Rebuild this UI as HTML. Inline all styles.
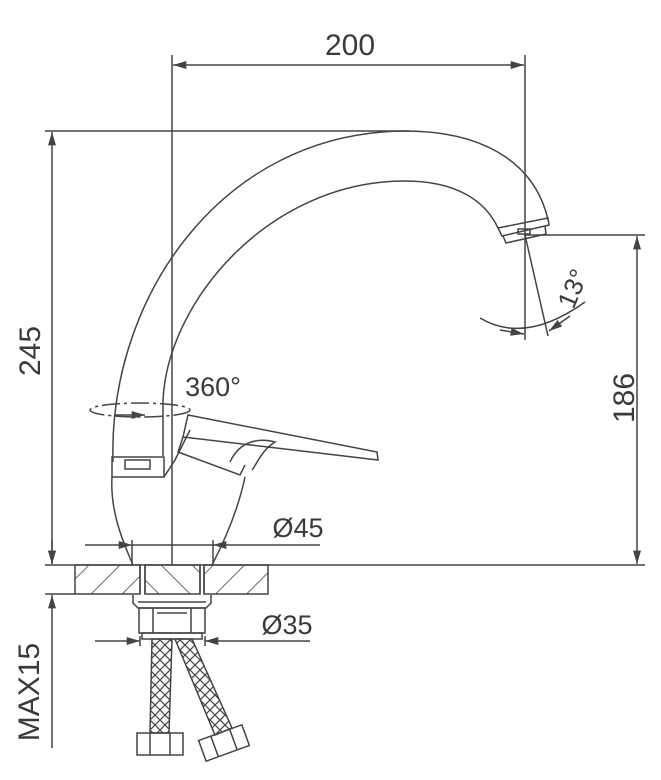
<!DOCTYPE html>
<html><head><meta charset="utf-8"><style>
html,body{margin:0;padding:0;background:#fff;}
svg{display:block;}
text{font-family:"Liberation Sans",sans-serif;fill:#3a3a3a;}
</style></head><body>
<svg width="661" height="780" viewBox="0 0 661 780" xmlns="http://www.w3.org/2000/svg">
<defs>
<marker id="a" viewBox="0 0 10 6" refX="10" refY="3" markerWidth="20" markerHeight="8" markerUnits="userSpaceOnUse" orient="auto-start-reverse"><path d="M0,0 L10,3 L0,6 z" fill="#444"/></marker>
<pattern id="h1" width="22" height="22" patternUnits="userSpaceOnUse" patternTransform="rotate(45)"><line x1="0" y1="0" x2="0" y2="22" stroke="#444" stroke-width="1.6"/></pattern>
<pattern id="h2" width="22" height="22" patternUnits="userSpaceOnUse" patternTransform="rotate(-45)"><line x1="0" y1="0" x2="0" y2="22" stroke="#444" stroke-width="1.6"/></pattern>
<pattern id="x" width="10" height="10" patternUnits="userSpaceOnUse"><path d="M0,0 L10,10 M10,0 L0,10" stroke="#444" stroke-width="1.2"/></pattern>
</defs>
<g stroke="#444" stroke-width="1.5" fill="none">
<line x1="172" y1="55" x2="172" y2="565"/>
<line x1="525" y1="55" x2="525" y2="340"/>
<line x1="173" y1="65" x2="524" y2="65" marker-start="url(#a)" marker-end="url(#a)"/>
<line x1="45" y1="131" x2="410" y2="131"/>
<line x1="52" y1="132" x2="52" y2="564" marker-start="url(#a)" marker-end="url(#a)"/>
<line x1="525" y1="235" x2="645" y2="235"/>
<line x1="637" y1="236" x2="637" y2="564" marker-start="url(#a)" marker-end="url(#a)"/>
<line x1="45" y1="565" x2="645" y2="565"/>
<line x1="45" y1="594" x2="75" y2="594"/>
<line x1="52" y1="540" x2="52" y2="564" marker-end="url(#a)"/>
<line x1="52" y1="748" x2="52" y2="595" marker-end="url(#a)"/>
<rect x="75" y="565" width="65" height="29" fill="url(#h1)"/>
<rect x="145" y="565" width="55" height="29" fill="url(#h2)"/>
<rect x="204" y="565" width="64" height="29" fill="url(#h1)"/>
<line x1="140" y1="565" x2="140" y2="594"/><line x1="145" y1="565" x2="145" y2="594"/>
<line x1="200" y1="565" x2="200" y2="594"/><line x1="204" y1="565" x2="204" y2="594"/>
<path d="M113 462 C108 300 220 132 405 131 C480 131 530 160 546 212 L548 220"/>
<path d="M163 456 L163 400 C168 300 270 181 405 181 C455 181 485 200 498 228"/>
<path d="M498 228 L548 218 L549 225 L502 236 z"/>
<path d="M503 236 L506 243 L546 234 L545 226"/>
<rect x="518" y="229" width="12" height="5"/>
<rect x="112" y="457" width="52" height="20"/>
<rect x="125" y="460" width="25" height="9"/>
<path d="M112 477 C110 510 122 540 133 565"/>
<path d="M164 477 L175 460 L190 430"/>
<path d="M245 477 C238 510 225 540 212 565"/>
<path d="M188 415 L377 452 L378 460 L183 437 z"/>
<path d="M183 437 L178 452 L240 475 L245 465"/>
<path d="M230 462 C240 440 260 438 275 442 C262 450 258 462 252 470"/>
<ellipse cx="140" cy="410" rx="50" ry="7" stroke-dasharray="18,4,3,4"/>
<line x1="115" y1="415" x2="145" y2="415" marker-end="url(#a)"/>
<line x1="85" y1="545" x2="132" y2="545" marker-end="url(#a)"/>
<line x1="320" y1="545" x2="213" y2="545" marker-end="url(#a)"/>
<line x1="132" y1="545" x2="213" y2="545"/>
<line x1="132" y1="540" x2="132" y2="565"/><line x1="213" y1="540" x2="213" y2="565"/>
<path d="M133 595 L133 603 L138 608 L206 608 L211 603 L211 595"/>
<line x1="138" y1="602" x2="206" y2="602"/>
<rect x="139" y="608" width="66" height="25"/>
<line x1="153" y1="608" x2="153" y2="633"/><line x1="191" y1="608" x2="191" y2="633"/>
<line x1="157" y1="613" x2="187" y2="613"/>
<rect x="142" y="633" width="60" height="6"/>
<line x1="95" y1="641" x2="140" y2="641" marker-end="url(#a)"/>
<line x1="310" y1="641" x2="205" y2="641" marker-end="url(#a)"/>
<line x1="140" y1="636" x2="140" y2="646"/><line x1="205" y1="636" x2="205" y2="646"/>
<path d="M152 639 L172 639 L169 733 L150 733 z" fill="url(#x)"/>
<path d="M175 639 L192 639 L232 728 L215 735 z" fill="url(#x)"/>
<rect x="137" y="733" width="46" height="22"/>
<line x1="150" y1="733" x2="150" y2="755"/><line x1="170" y1="733" x2="170" y2="755"/>
<g transform="rotate(-20 224 743)"><rect x="201" y="732" width="46" height="22"/><line x1="214" y1="732" x2="214" y2="754"/><line x1="234" y1="732" x2="234" y2="754"/></g>
<line x1="525" y1="235" x2="548" y2="336"/>
<path d="M480 318 Q525 345 585 302"/>
<line x1="500" y1="330" x2="524" y2="334" marker-end="url(#a)"/>
<line x1="570" y1="316" x2="549" y2="331" marker-end="url(#a)"/>
</g>
<text x="350" y="55" font-size="30" text-anchor="middle">200</text>
<text transform="translate(40 351) rotate(-90)" font-size="30" text-anchor="middle">245</text>
<text transform="translate(634 398) rotate(-90)" font-size="30" text-anchor="middle">186</text>
<text transform="translate(39 692) rotate(-90)" font-size="30" text-anchor="middle">MAX15</text>
<text x="213" y="396" font-size="27" text-anchor="middle">360°</text>
<text x="298" y="537" font-size="27" text-anchor="middle">Ø45</text>
<text x="287" y="634" font-size="27" text-anchor="middle">Ø35</text>
<text transform="translate(581 292) rotate(-67)" font-size="26" text-anchor="middle">13°</text>
</svg>
</body></html>
